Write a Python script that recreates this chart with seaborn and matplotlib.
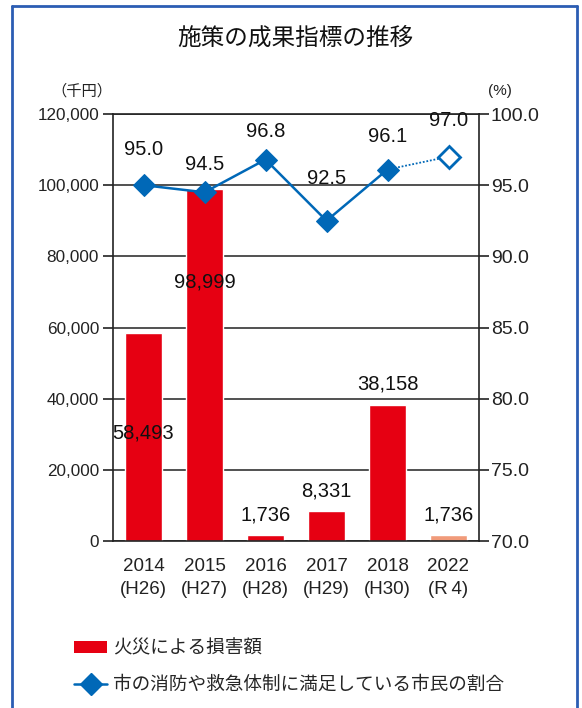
import numpy as np
import pandas as pd
import matplotlib
matplotlib.use("Agg")
import matplotlib.pyplot as plt
import seaborn as sns
from matplotlib import font_manager
from matplotlib.lines import Line2D
from matplotlib.patches import Patch

# ---- data ----
years = ["2014", "2015", "2016", "2017", "2018", "2022"]
eras = ["(H26)", "(H27)", "(H28)", "(H29)", "(H30)", "(R\u20094)"]
damage = [58493, 98999, 1736, 8331, 38158, 1736]
rate = [95.0, 94.5, 96.8, 92.5, 96.1, 97.0]
damage_labels = ["58,493", "98,999", "1,736", "8,331", "38,158", "1,736"]
rate_labels = ["95.0", "94.5", "96.8", "92.5", "96.1", "97.0"]
left_ticks = [0, 20000, 40000, 60000, 80000, 100000, 120000]
right_ticks = [70.0, 75.0, 80.0, 85.0, 90.0, 95.0, 100.0]

title = "施策の成果指標の推移"
legend_bar = "火災による損害額"
legend_line = "市の消防や救急体制に満足している市民の割合"

# label offsets (pixels) — styling only
bar_label_dy = [-100, -93, 20, 20, 21, 20]
rate_label_dy = [36, 28, 28, 42, 33, 36]

RED = "#E60012"
SALMON = "#F19B7A"
BLUE = "#0068B7"
BORDER = "#2B5DB3"

sns.set_theme(style="white")
JP = "Noto Sans CJK JP"


def has_font(name):
    try:
        font_manager.findfont(name, fallback_to_default=False)
        return True
    except Exception:
        return False


NUM = "Liberation Sans"
NARROW = "Liberation Sans Narrow" if has_font("Liberation Sans Narrow") else None
plt.rcParams["font.family"] = [NUM, JP, "DejaVu Sans"]

fig = plt.figure(figsize=(5.82, 7.08), dpi=100)
W, H = 582, 708
ax = fig.add_axes([113 / W, 1 - 541 / H, (479 - 113) / W, (541 - 114) / H])

df = pd.DataFrame({"year": years, "damage": damage})
colors = [RED] * 5 + [SALMON]
sns.barplot(data=df, x="year", y="damage", hue="year", palette=colors,
            legend=False, width=0.62, ax=ax, saturation=1)

ax.set_ylim(0, 120000)
ax.set_xlim(-0.5, 5.5)
ax.set_yticks(left_ticks)
if NARROW:
    ax.set_yticklabels([f"{v:,}" for v in left_ticks], family=[NARROW, JP], fontsize=14,
                       color="#222222")
else:
    ax.set_yticklabels([f"{v:,}" for v in left_ticks], fontsize=12.3, color="#222222")
ax.grid(axis="y", color="#333333", linewidth=1.2)
ax.grid(axis="x", visible=False)
ax.set_axisbelow(True)
ax.set_xlabel("")
ax.set_ylabel("")
ax.set_xticks(range(6))
ax.set_xticklabels([f"{y}\n{e}" for y, e in zip(years, eras)], fontsize=13.5,
                   linespacing=1.5, color="#222222")
ax.set_xticks(np.arange(-0.5, 6.0, 1.0), minor=True)
ax.tick_params(axis="x", which="major", length=0, pad=12)
ax.tick_params(axis="x", which="minor", length=7, width=1.2, color="#222222", direction="out")
ax.tick_params(axis="y", length=7, width=1.2, color="#222222", pad=3, left=True)
for s in ax.spines.values():
    s.set_color("#222222")
    s.set_linewidth(1.2)

# bar labels
for i, (v, lab) in enumerate(zip(damage, damage_labels)):
    ax.annotate(lab, (i, v), xytext=(0, bar_label_dy[i]), textcoords="offset pixels",
                ha="center", va="center", fontsize=14.5, color="#111111", zorder=5)

# line on secondary axis
ax2 = ax.twinx()
ax2.set_ylim(70, 100)
ax2.set_yticks(right_ticks)
ax2.set_yticklabels([f"{v:.1f}" for v in right_ticks], fontsize=14, color="#222222")
ax2.tick_params(axis="y", length=7, width=1.2, color="#222222", pad=1.5, right=True)
ax2.grid(False)
for s in ax2.spines.values():
    s.set_visible(False)

line_df = pd.DataFrame({"x": list(range(5)), "rate": rate[:5]})
sns.lineplot(data=line_df, x="x", y="rate", ax=ax2, color=BLUE, linewidth=1.8,
             marker="D", markersize=11, markeredgecolor=BLUE, markerfacecolor=BLUE)
ax2.plot([4, 5], rate[4:6], linestyle=(0, (1, 1)), color=BLUE, linewidth=1.3)
ax2.plot([5], [rate[5]], marker="D", markersize=11, markerfacecolor="white",
         markeredgecolor=BLUE, markeredgewidth=2, linestyle="none")
ax2.set_xlim(-0.5, 5.5)
ax2.set_xlabel("")
ax2.set_ylabel("")

for i, (v, lab) in enumerate(zip(rate, rate_labels)):
    ax2.annotate(lab, (i, v), xytext=(0, rate_label_dy[i]), textcoords="offset pixels",
                 ha="center", va="center", fontsize=14.5, color="#111111", zorder=6)

# title and unit labels
fig.text(295 / W, 1 - 38 / H, title, ha="center", va="center", fontsize=17,
         family=[JP, "DejaVu Sans"], color="#111111")
fig.text(82 / W, 1 - 91 / H, "（千円）", ha="center", va="center", fontsize=11,
         family=[JP, "DejaVu Sans"], color="#222222")
fig.text(500 / W, 1 - 91 / H, "(%)", ha="center", va="center", fontsize=11,
         family=[NUM, "DejaVu Sans"], color="#222222")

# legend
handles = [Patch(facecolor=RED, edgecolor="none"),
           Line2D([0], [0], color=BLUE, linewidth=1.8, marker="D", markersize=11,
                  markerfacecolor=BLUE, markeredgecolor=BLUE)]
leg = fig.legend(handles, [legend_bar, legend_line], loc="upper left",
                 bbox_to_anchor=(67 / W, 1 - 632 / H), frameon=False,
                 prop={"family": [JP, "DejaVu Sans"], "size": 13.4},
                 handlelength=1.75, handleheight=0.6, handletextpad=0.3,
                 labelspacing=1.0, borderaxespad=0)

# outer blue frame (open at bottom)
fig.add_artist(Line2D([12 / W, 12 / W], [0, 1 - 6 / H], color=BORDER, linewidth=2,
                      transform=fig.transFigure))
fig.add_artist(Line2D([12 / W, 577 / W], [1 - 6 / H, 1 - 6 / H], color=BORDER, linewidth=2,
                      transform=fig.transFigure))
fig.add_artist(Line2D([577 / W, 577 / W], [0, 1 - 6 / H], color=BORDER, linewidth=2,
                      transform=fig.transFigure))

fig.savefig("out.png", dpi=100)
